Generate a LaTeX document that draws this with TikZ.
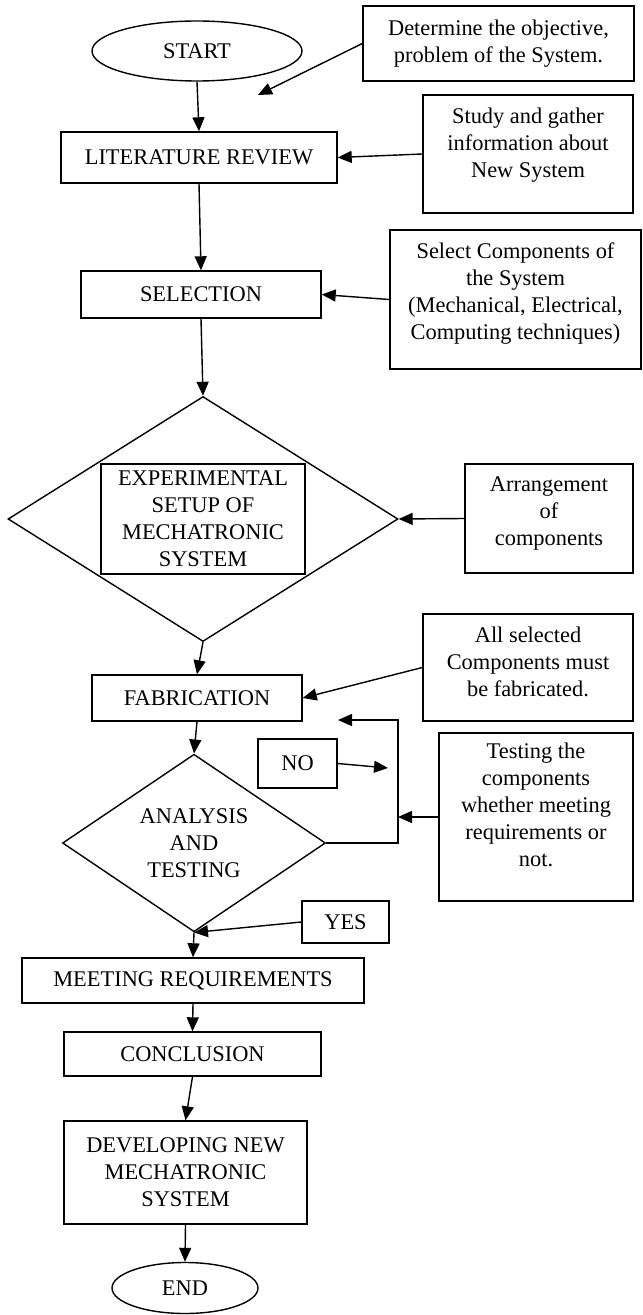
\documentclass[tikz,border=0pt]{standalone}
\usepackage{fontspec}
\setmainfont{Liberation Serif}
\usetikzlibrary{arrows.meta,shapes.geometric}
\newcommand{\padlast}[1]{\rule[-#1]{0pt}{0pt}}

\begin{document}
\begin{tikzpicture}[
    x=0.5pt, y=-0.5pt,
    every node/.style={font=\fontsize{11.2}{13.5}\selectfont},
    procbox/.style={
      draw,
      line width=0.7pt,
      inner sep=1pt,
      align=center
    },
    term/.style={
      ellipse,
      draw,
      line width=0.7pt,
      inner sep=0pt
    },
    decide/.style={
      diamond,
      draw,
      line width=0.7pt,
      inner sep=0pt,
      align=center
    },
    arrow/.style={
      -{Triangle[length=7pt,width=6pt]},
      line width=0.7pt
    }
  ]
  \useasboundingbox (0,0) rectangle (642,1315);

  % main flow (left)
  \node[term, minimum width=105pt, minimum height=30pt] (start) at (197,51) {START};
  \node[procbox, minimum width=138pt, minimum height=25.5pt] (lit) at (199,157.5) {LITERATURE REVIEW};
  \node[procbox, minimum width=120pt, minimum height=23.5pt] (sel) at (201,294.5) {SELECTION};
  \node[decide, minimum width=195pt, minimum height=122.5pt] (expd) at (203,519) {};
  \node[procbox, minimum width=102pt, minimum height=55pt] (exp) at (203,519)
    {EXPERIMENTAL\\SETUP OF\\MECHATRONIC\\SYSTEM};
  \node[procbox, minimum width=105pt, minimum height=23pt] (fab) at (197,698) {FABRICATION};
  \node[decide, minimum width=131.5pt, minimum height=88.5pt] (ana) at (194,843)
    {ANALYSIS\\AND\\TESTING};
  \node[procbox, minimum width=171pt, minimum height=22.5pt] (meet) at (193,980.5) {MEETING REQUIREMENTS};
  \node[procbox, minimum width=128.5pt, minimum height=22pt] (concl) at (192.5,1054) {CONCLUSION};
  \node[procbox, minimum width=121.5pt, minimum height=51.5pt] (dev) at (185.5,1172.5)
    {DEVELOPING NEW\\MECHATRONIC\\SYSTEM};
  \node[term, minimum width=73pt, minimum height=25.5pt] (end) at (185,1288) {END};

  % notes (right)
  \node[procbox, minimum width=135.5pt, minimum height=37.5pt] (obj) at (498.5,43.5)
    {Determine the objective,\\problem of the System.};
  \node[procbox, minimum width=105pt, minimum height=59pt] (study) at (528,154)
    {Study and gather\\information about\\New System\padlast{11pt}};
  \node[procbox, minimum width=125.5pt, minimum height=69.5pt] (selnote) at (515.5,299.5)
    {Select Components of\\the System\\(Mechanical, Electrical,\\Computing techniques)\padlast{8.8pt}};
  \node[procbox, minimum width=84pt, minimum height=54.5pt] (arr) at (549,518.5)
    {Arrangement\\of\\components\padlast{7.8pt}};
  \node[procbox, minimum width=105pt, minimum height=53.5pt] (allsel) at (528,667.5)
    {All selected\\Components must\\be fabricated.\padlast{5.8pt}};
  \node[procbox, minimum width=97pt, minimum height=84pt] (test) at (536,817)
    {Testing the\\components\\whether meeting\\requirements or\\not.\padlast{11.8pt}};
  \node[procbox, minimum width=39.5pt, minimum height=24.5pt] (no) at (297.5,763.5) {NO};
  \node[procbox, minimum width=43.5pt, minimum height=21pt] (yes) at (345.5,922) {YES};

  % free ends
  \coordinate (objTip) at (258,95);
  \coordinate (loopR) at (398,720);
  \coordinate (loopTip) at (338,720);
  \coordinate (loopIn) at (398,817);
  \coordinate (noTip) at (388,768);

  % main arrows
  \draw[arrow] (start.south) -- (lit.north);
  \draw[arrow] (lit.south) -- (sel.north);
  \draw[arrow] (sel.south) -- (expd.north);
  \draw[arrow] (expd.south) -- (fab.north);
  \draw[arrow] (fab.south) -- (ana.north);
  \draw[arrow] (ana.south) -- (meet.north);
  \draw[arrow] (meet.south) -- (concl.north);
  \draw[arrow] (concl.south) -- (dev.north);
  \draw[arrow] (dev.south) -- (end.north);

  % note arrows
  \draw[arrow] (obj.west) -- (objTip);
  \draw[arrow] (study.west) -- (lit.east);
  \draw[arrow] (selnote.west) -- (sel.east);
  \draw[arrow] (arr.west) -- (expd.east);
  \draw[arrow] (allsel.west) -- (fab.east);
  \draw[arrow] (test.west) -- (loopIn);

  % decision loop
  \draw[arrow] (ana.east) -| (loopR) -- (loopTip);
  \draw[arrow] (no.east) -- (noTip);
  \draw[arrow] (yes.west) -- (ana.south);

\end{tikzpicture}
\end{document}
